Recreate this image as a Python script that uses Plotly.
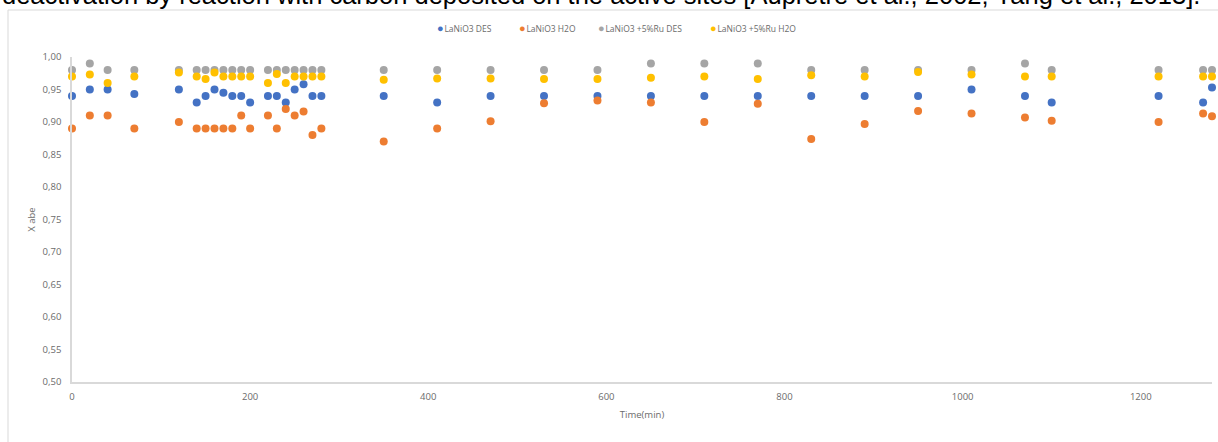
import plotly.graph_objects as go

# Sampling times (min)
time_min = [0, 20, 40, 70, 120, 140, 150, 160, 170, 180, 190, 200, 220, 230, 240,
            250, 260, 270, 280, 350, 410, 470, 530, 590, 650, 710, 770, 830, 890,
            950, 1010, 1070, 1100, 1220, 1270, 1280]

# Conversion X abe for each catalyst / feed
lanio3_des = [0.94, 0.95, 0.95, 0.943, 0.95, 0.93, 0.94, 0.95, 0.945, 0.94, 0.94, 0.93,
              0.94, 0.94, 0.93, 0.95, 0.958, 0.94, 0.94, 0.94, 0.93, 0.94, 0.94, 0.94,
              0.94, 0.94, 0.94, 0.94, 0.94, 0.94, 0.95, 0.94, 0.93, 0.94, 0.93, 0.953]
lanio3_h2o = [0.89, 0.91, 0.91, 0.89, 0.90, 0.89, 0.89, 0.89, 0.89, 0.89, 0.91, 0.89,
              0.91, 0.89, 0.92, 0.91, 0.916, 0.88, 0.89, 0.87, 0.89, 0.901, 0.929, 0.933,
              0.930, 0.900, 0.928, 0.874, 0.897, 0.917, 0.913, 0.907, 0.902, 0.90, 0.913, 0.909]
ru_des = [0.98, 0.99, 0.98, 0.98, 0.98, 0.98, 0.98, 0.98, 0.98, 0.98, 0.98, 0.98,
          0.98, 0.98, 0.98, 0.98, 0.98, 0.98, 0.98, 0.98, 0.98, 0.98, 0.98, 0.98,
          0.99, 0.99, 0.99, 0.98, 0.98, 0.98, 0.98, 0.99, 0.98, 0.98, 0.98, 0.98]
ru_h2o = [0.97, 0.973, 0.96, 0.97, 0.976, 0.97, 0.966, 0.976, 0.97, 0.97, 0.97, 0.97,
          0.96, 0.974, 0.96, 0.97, 0.97, 0.97, 0.97, 0.965, 0.967, 0.967, 0.966, 0.966,
          0.968, 0.970, 0.966, 0.972, 0.970, 0.977, 0.973, 0.97, 0.97, 0.97, 0.97, 0.97]

series_names = ["LaNiO3 DES", "LaNiO3 H2O", "LaNiO3 +5%Ru DES", "LaNiO3 +5%Ru H2O"]
series_values = [lanio3_des, lanio3_h2o, ru_des, ru_h2o]
colors = ["#4472C4", "#ED7D31", "#A5A5A5", "#FFC000"]

y_ticks = [0.50, 0.55, 0.60, 0.65, 0.70, 0.75, 0.80, 0.85, 0.90, 0.95, 1.00]
x_ticks = [0, 200, 400, 600, 800, 1000, 1200]

caption = ("deactivation by reaction with carbon deposited on the active sites "
           "[Aupretre et al., 2002; Yang et al., 2013].")

label_font = dict(family="Open Sans, Liberation Sans, sans-serif", size=9.5, color="#6b6b6b")

fig = go.Figure()
for name, vals, col in zip(series_names, series_values, colors):
    fig.add_trace(go.Scatter(
        x=time_min, y=vals, mode="markers", name=name,
        marker=dict(color=col, size=8, line=dict(width=0)),
        cliponaxis=False, showlegend=False,
    ))

# Legend row built from text annotations
legend_x = [435, 517, 596, 708]   # pixel x of each entry start
L, W, T, H = 72, 1140, 57, 325
for name, col, px in zip(series_names, colors, legend_x):
    fig.add_annotation(
        x=(px - L) / W, y=(382 - 27) / H, xref="paper", yref="paper",
        xanchor="left", yanchor="middle", showarrow=False,
        text=f'<span style="color:{col};font-size:11px">●</span><span style="font-size:3px"> </span>{name}',
        font=dict(family="Open Sans, Liberation Sans, sans-serif", size=8.5, color="#6b6b6b"),
    )

# Document text line above the chart
fig.add_annotation(
    x=(0 - L) / W, y=(382 + 5) / H, xref="paper", yref="paper",
    xanchor="left", yanchor="middle", showarrow=False,
    text=caption,
    font=dict(family="Liberation Sans, Arial, sans-serif", size=25.5, color="#000000"),
)

# Chart area border
fig.add_shape(
    type="rect", xref="paper", yref="paper",
    x0=(8 - L) / W, x1=(1240 - L) / W, y0=(382 - 460) / H, y1=(382 - 10) / H,
    line=dict(color="#D9D9D9", width=1), fillcolor="rgba(0,0,0,0)", layer="below",
)

fig.update_layout(
    width=1218, height=442,
    margin=dict(l=72, r=6, t=57, b=60),
    paper_bgcolor="white", plot_bgcolor="white",
    separators=",.",
    showlegend=False,
    xaxis=dict(
        range=[0, 1280], tickvals=x_ticks, showgrid=False, zeroline=False,
        showline=True, linecolor="#D9D9D9", linewidth=1.5,
        tickfont=label_font, ticks="", ticklen=0, ticklabelstandoff=5,
        title=dict(text="Time(min)", font=label_font, standoff=9),
    ),
    yaxis=dict(
        range=[0.5, 1.0], tickvals=y_ticks, tickformat=".2f", showgrid=False,
        zeroline=False, showline=True, linecolor="#D9D9D9", linewidth=1.5,
        tickfont=label_font, ticks="", ticklen=0, ticklabelstandoff=7,
        title=dict(text="X abe", font=label_font, standoff=5),
    ),
)

fig.write_html("out.html")
